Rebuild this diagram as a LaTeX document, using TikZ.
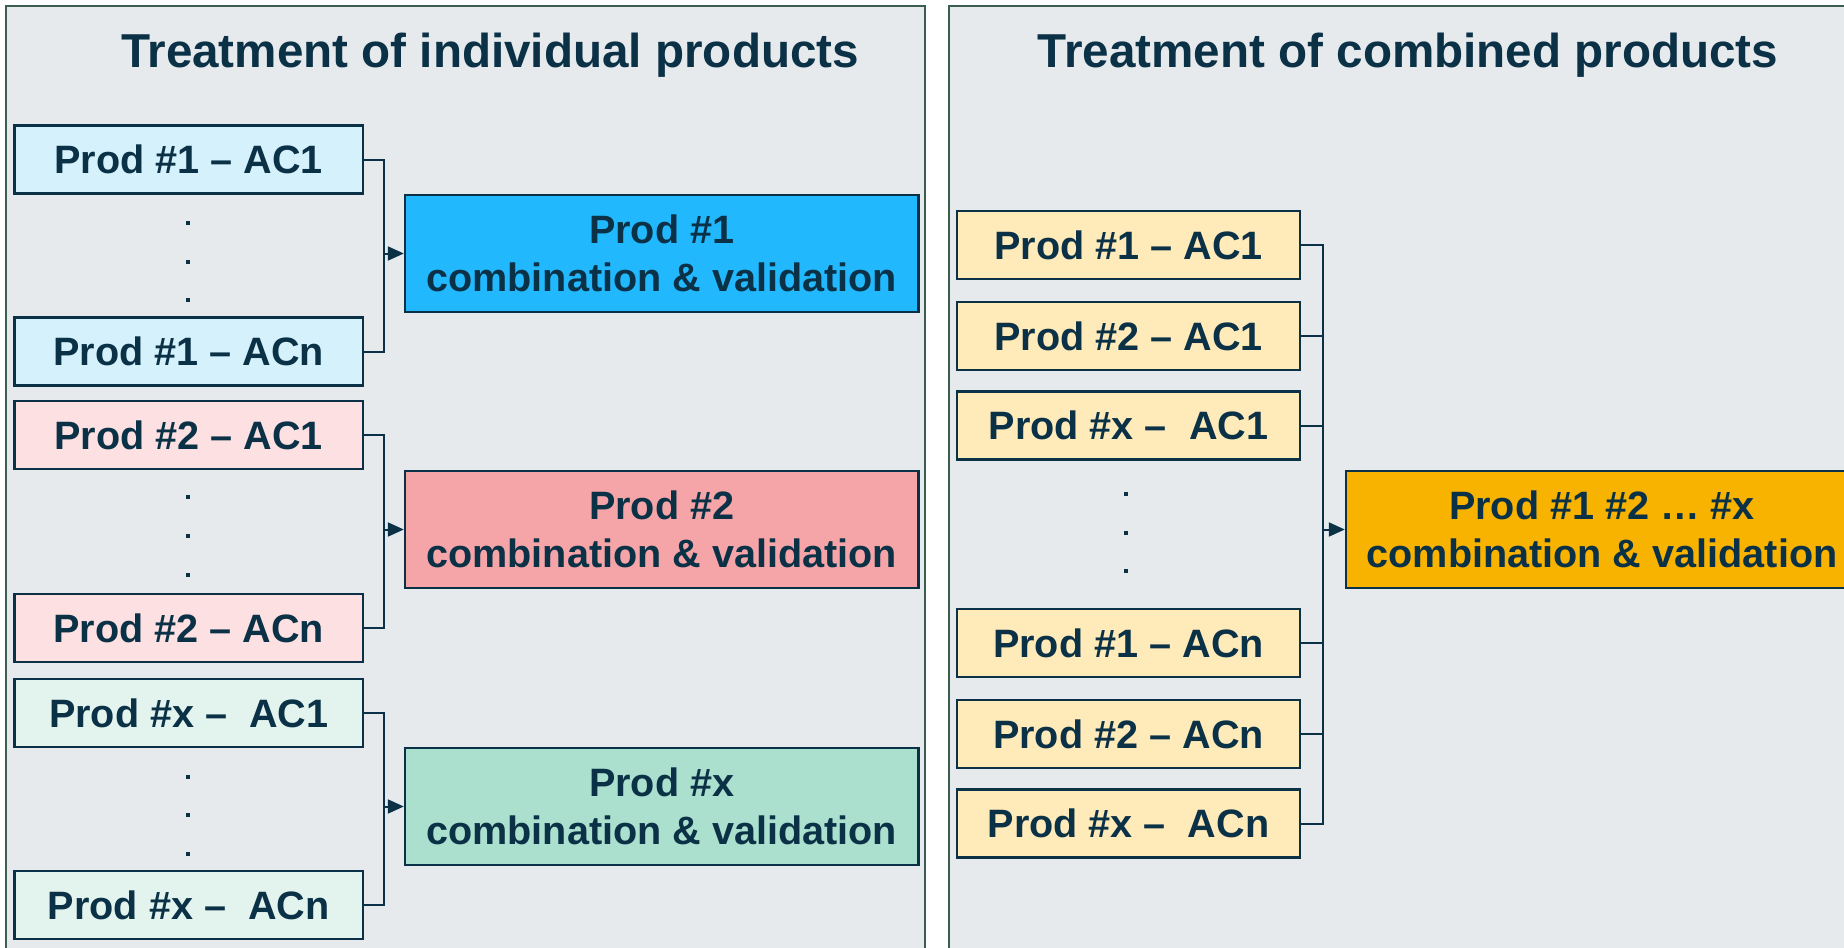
\documentclass[tikz,border=0pt]{standalone}
\usepackage{fontspec}
\setmainfont{Liberation Sans}
\usetikzlibrary{arrows.meta}
\definecolor{panelbg}{HTML}{E6EAED}
\definecolor{panelline}{HTML}{3B5E50}
\definecolor{navy}{HTML}{0B3147}
\definecolor{oneS}{HTML}{D4F1FC}
\definecolor{oneB}{HTML}{22B8FE}
\definecolor{twoS}{HTML}{FDE0E2}
\definecolor{twoB}{HTML}{F5A5A7}
\definecolor{xS}{HTML}{E3F4EE}
\definecolor{xB}{HTML}{ABDFCE}
\definecolor{allS}{HTML}{FFEABA}
\definecolor{allB}{HTML}{F8B200}
\begin{document}
\begin{tikzpicture}[x=0.5pt,y=-0.5pt,
  panel/.style={draw=panelline, line width=1.2pt, fill=panelbg},
  smallbox/.style={draw=navy, line width=1.2pt, minimum width=174.25pt, minimum height=34pt, inner sep=0pt, text=navy, font=\fontsize{19.8}{24}\selectfont\bfseries},
  bigbox/.style={draw=navy, line width=1.2pt, minimum width=256.75pt, minimum height=58.5pt, inner sep=0pt, align=center, text=navy, font=\fontsize{19.8}{24}\selectfont\bfseries},
  titletext/.style={font=\fontsize{23.8}{28}\selectfont\bfseries, text=navy, anchor=base, inner sep=0pt},
  link/.style={draw=navy, line width=1pt},
  arrowlink/.style={link, -{Triangle[length=8pt,width=7pt]}},
  dotmark/.style={fill=navy, rectangle, minimum size=2.2pt, inner sep=0pt}]
\useasboundingbox (0,0) rectangle (1844,948);
\clip (0,0) rectangle (1844,948);
\fill[white] (0,0) rectangle (1844,948);
\draw[panel] (6,6) rectangle (925,975);
\draw[panel] (949,6) rectangle (1875,975);
\node[titletext] (t1) at (490,67) {Treatment of individual products};
\node[titletext] (t2) at (1408,67) {Treatment of combined products};
% left side small boxes
\node[smallbox, fill=oneS] (p1a) at (188.75,159.5) {Prod \#1 – AC1};
\node[smallbox, fill=oneS] (p1n) at (188.75,351.5) {Prod \#1 – ACn};
\node[smallbox, fill=twoS] (p2a) at (188.75,435) {Prod \#2 – AC1};
\node[smallbox, fill=twoS] (p2n) at (188.75,628) {Prod \#2 – ACn};
\node[smallbox, fill=xS] (pxa) at (188.75,713) {Prod \#x –\ \ AC1};
\node[smallbox, fill=xS] (pxn) at (188.75,905) {Prod \#x –\ \ ACn};
% left big boxes
\node[bigbox, fill=oneB] (b1) at (661.75,253.5) {Prod \#1\\combination \& validation};
\node[bigbox, fill=twoB] (b2) at (661.75,529.5) {Prod \#2\\combination \& validation};
\node[bigbox, fill=xB] (bx) at (661.75,806.5) {Prod \#x\\combination \& validation};
% dots
\foreach \n/\y in {1a/223,1b/262,1c/300,2a/497,2b/536,2c/575,xa/777,xb/815,xc/854}
  \node[dotmark] (d\n) at (188,\y) {};
\foreach \n/\y in {ra/494,rb/533,rc/571}
  \node[dotmark] (d\n) at (1126,\y) {};
% buses
\coordinate (busL) at (383.5,0);
\coordinate (busR) at (1323,0);
\draw[link] (p1a.east) -- (p1a.east -| busL) -- (p1n.east -| busL) -- (p1n.east);
\draw[arrowlink] (b1.west -| busL) -- (b1.west);
\draw[link] (p2a.east) -- (p2a.east -| busL) -- (p2n.east -| busL) -- (p2n.east);
\draw[arrowlink] (b2.west -| busL) -- (b2.west);
\draw[link] (pxa.east) -- (pxa.east -| busL) -- (pxn.east -| busL) -- (pxn.east);
\draw[arrowlink] (bx.west -| busL) -- (bx.west);
% right side
\node[smallbox, fill=allS, minimum width=171.5pt] (r1) at (1128.5,245) {Prod \#1 – AC1};
\node[smallbox, fill=allS, minimum width=171.5pt] (r2) at (1128.5,336) {Prod \#2 – AC1};
\node[smallbox, fill=allS, minimum width=171.5pt] (r3) at (1128.5,425.5) {Prod \#x –\ \ AC1};
\node[smallbox, fill=allS, minimum width=171.5pt] (r4) at (1128.5,643) {Prod \#1 – ACn};
\node[smallbox, fill=allS, minimum width=171.5pt] (r5) at (1128.5,734) {Prod \#2 – ACn};
\node[smallbox, fill=allS, minimum width=171.5pt] (r6) at (1128.5,823.5) {Prod \#x –\ \ ACn};
\node[bigbox, fill=allB, minimum width=256pt] (ball) at (1602,529.5) {Prod \#1 \#2 … \#x\\combination \& validation};
\draw[link] (r1.east) -- (r1.east -| busR) -- (r6.east -| busR) -- (r6.east);
\foreach \r in {r2,r3,r4,r5}
  \draw[link] (\r.east) -- (\r.east -| busR);
\draw[arrowlink] (ball.west -| busR) -- (ball.west);
\end{tikzpicture}
\end{document}
